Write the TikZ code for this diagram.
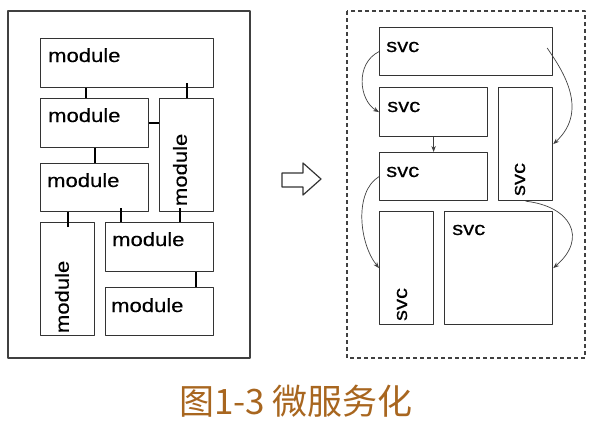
\documentclass[tikz,border=0pt]{standalone}
\usepackage{fontspec}
\usetikzlibrary{calc,arrows.meta}
\newfontfamily\boxfont[FakeStretch=1.16,FakeBold=0.3]{Liberation Sans}
\newfontfamily\cjk{Noto Sans CJK SC}
\definecolor{capbrown}{HTML}{A8661F}
\begin{document}
\begin{tikzpicture}[x=1pt,y=-1pt,>={Stealth[length=6pt,width=4.5pt]},line join=round,
box/.style n args={2}{draw=black!80,line width=1.2pt,anchor=north west,inner sep=0,minimum width=#1pt,minimum height=#2pt},
link/.style={line width=2.2pt,black},
flow/.style={->,black!75,line width=.7pt},
lbl/.style={font=\boxfont\fontsize{19}{22}\selectfont,inner sep=0,anchor=base west},
vlbl/.style={font=\boxfont\fontsize{19}{22}\selectfont,inner sep=0,rotate=90,anchor=west}]
\useasboundingbox (0,0) rectangle (594,423);
\draw[draw=black!75,line width=1.2pt] (8,11) rectangle (250,358);
\draw[draw=black!75,line width=1.2pt,dash pattern=on 4pt off 3pt] (347,11) rectangle (585,358);
\node[box={173}{49}] (m1) at (40,38) {};
\node[box={108}{49}] (m2) at (40,98) {};
\node[box={54}{113}] (m3) at (159,98) {};
\node[box={108}{48}] (m4) at (40,163) {};
\node[box={54}{113}] (m5) at (40,222) {};
\node[box={108}{49}] (m6) at (105,222) {};
\node[box={108}{48}] (m7) at (105,287) {};
\node[lbl] (t1) at ($(m1.north west)+(8,24)$) {module};
\node[lbl] (t2) at ($(m2.north west)+(8,24)$) {module};
\node[vlbl] (t3) at ($(m3.south west)+(21,-6)$) {module};
\node[lbl] (t4) at ($(m4.north west)+(7,24)$) {module};
\node[vlbl] (t5) at ($(m5.south west)+(22,-3)$) {module};
\node[lbl] (t6) at ($(m6.north west)+(7,24)$) {module};
\node[lbl] (t7) at ($(m7.north west)+(6,25)$) {module};
\draw[link] ($(m2.north west)+(46,0)$) coordinate (j1) -- (j1 |- m1.south);
\draw[link] (m3.north) -- ($(m3.north |- m1.south)+(0,-5)$);
\draw[link] (m2.east) -- (m2.east -| m3.west);
\draw[link] (m4.north) -- (m4.north |- m2.south);
\draw[link] ($(m5.north)+(0,5)$) -- (m5.north |- m4.south);
\draw[link] ($(m6.north west)+(16,0)$) coordinate (j2) -- ($(j2 |- m4.south)+(0,-4)$);
\draw[link] ($(m6.north west)+(75,0)$) coordinate (j3) -- ($(j3 |- m3.south)+(0,-4)$);
\draw[link] ($(m7.north west)+(91,0)$) coordinate (j4) -- (j4 |- m6.south);
\draw[draw=black!80,line width=1.2pt] (282,173)--(303,173)--(303,163)--(321,179)--(303,195)--(303,187)--(282,187)--cycle;
\node[box={173}{48}] (sA) at (379,27) {};
\node[box={108}{49}] (sB) at (379,87) {};
\node[box={54}{113}] (sC) at (498,87) {};
\node[box={108}{48}] (sD) at (379,152) {};
\node[box={54}{113}] (sE) at (379,211) {};
\node[box={108}{113}] (sF) at (444,211) {};
\node[lbl] (v1) at ($(sA.north west)+(7,25)$) {svc};
\node[lbl] (v2) at ($(sB.north west)+(8,25)$) {svc};
\node[vlbl] (v3) at ($(sC.south west)+(22,-5)$) {svc};
\node[lbl] (v4) at ($(sD.north west)+(7,25)$) {svc};
\node[vlbl] (v5) at ($(sE.south west)+(23,-4)$) {svc};
\node[lbl] (v6) at ($(sF.north west)+(8,24)$) {svc};
\draw[flow] (sA.west) .. controls +(-24,12) and +(-20,-12) .. (sB.west);
\draw[flow] ($(sA.north east)+(-6,21)$) coordinate (f1) .. controls +(12,18) and +(38,-35) .. (sC.east);
\draw[flow] (sB.south) -- (sD.north);
\draw[flow] (sD.west) .. controls +(-25,15) and +(-20,-25) .. (sE.west);
\draw[flow] (sC.south) .. controls +(45,5) and +(35,-30) .. (sF.east);
\node[font=\cjk\fontsize{35}{40}\selectfont,text=capbrown] (cap) at (296,401) {图1-3 微服务化};
\end{tikzpicture}
\end{document}
